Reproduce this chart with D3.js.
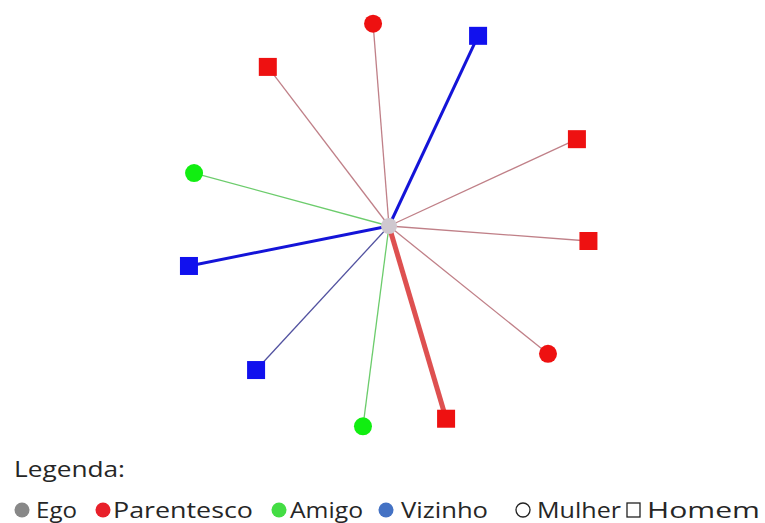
<!DOCTYPE html>
<html>
<head>
<meta charset="utf-8">
<script src="https://cdn.jsdelivr.net/npm/d3@7"></script>
<style>
  body { margin: 0; background: #fff; }
  svg { display: block; }
  .legend text { font-family: "Open Sans", sans-serif; fill: #262626; }
</style>
</head>
<body>
<div id="chart"></div>
<script>
const width = 765;
const height = 523;

// Alteri da rede pessoal (ego no centro)
const relations = ["Parentesco", "Vizinho", "Parentesco", "Amigo", "Parentesco", "Parentesco",
                   "Vizinho", "Vizinho", "Amigo", "Parentesco", "Parentesco"];
const sexes     = ["Mulher", "Homem", "Homem", "Mulher", "Homem", "Homem",
                   "Homem", "Homem", "Mulher", "Homem", "Mulher"];
const angles    = [-4.5, 25.1, -37.3, -74.8, 65.2, 94.3, 258.7, 222.7, 187.4, 163.5, 128.8];
const distances = [203, 210, 200, 202, 207, 200, 204, 196, 202, 201, 204];
const strengths = [1, 2, 1, 1, 1, 1, 2, 1, 1, 3, 1];

// Legenda
const legendTypes  = ["Ego", "Parentesco", "Amigo", "Vizinho"];
const legendShapes = ["Mulher", "Homem"];

const nodeColor = d3.scaleOrdinal()
  .domain(["Parentesco", "Amigo", "Vizinho"])
  .range(["#ee1111", "#11ee11", "#1111ee"]);

const linkColor = (rel, s) => {
  if (rel === "Amigo") return "#6ccc6c";
  if (rel === "Vizinho") return s > 1 ? "#1414d8" : "#5252a0";
  return s > 2 ? "#de5050" : "#c08088";
};

const legendColor = d3.scaleOrdinal()
  .domain(legendTypes)
  .range(["#888888", "#e8202a", "#44dd44", "#4472c4"]);

const widthScale = d3.scaleOrdinal().domain([1, 2, 3]).range([1.3, 3, 5]);
const radius = d3.scaleLinear().domain([0, 200]).range([0, 200]);
const ego = { x: 389, y: 226 };

const nodes = relations.map((rel, i) => {
  const a = angles[i] * Math.PI / 180;
  const r = radius(distances[i]);
  return {
    rel, sex: sexes[i], s: strengths[i],
    x: ego.x + r * Math.sin(a),
    y: ego.y - r * Math.cos(a)
  };
});

const svg = d3.select("#chart").append("svg")
  .attr("width", width)
  .attr("height", height);

// Ligações
svg.append("g").selectAll("line")
  .data(nodes)
  .join("line")
  .attr("x1", ego.x).attr("y1", ego.y)
  .attr("x2", d => d.x).attr("y2", d => d.y)
  .attr("stroke", d => linkColor(d.rel, d.s))
  .attr("stroke-width", d => widthScale(d.s));

// Ego
svg.append("circle")
  .attr("cx", ego.x).attr("cy", ego.y).attr("r", 8)
  .attr("fill", "#cfc8cf");

// Nós
const g = svg.append("g");
g.selectAll("circle")
  .data(nodes.filter(d => d.sex === "Mulher"))
  .join("circle")
  .attr("cx", d => d.x).attr("cy", d => d.y).attr("r", 9)
  .attr("fill", d => nodeColor(d.rel));
g.selectAll("rect")
  .data(nodes.filter(d => d.sex === "Homem"))
  .join("rect")
  .attr("x", d => d.x - 9).attr("y", d => d.y - 9)
  .attr("width", 18).attr("height", 18)
  .attr("fill", d => nodeColor(d.rel));

// Legenda
const legend = svg.append("g").attr("class", "legend");
legend.append("text")
  .attr("x", 14).attr("y", 477)
  .attr("textLength", 111).attr("lengthAdjust", "spacingAndGlyphs")
  .style("font-size", "21px")
  .text("Legenda:");

const typeX = [22, 103, 279, 386];
const typeTextX = [36, 113, 290, 401];
const typeLen = [41, 140, 73, 87];
legend.selectAll("circle")
  .data(legendTypes)
  .join("circle")
  .attr("cx", (d, i) => typeX[i]).attr("cy", 510).attr("r", 7.5)
  .attr("fill", d => legendColor(d));
legend.selectAll("text.t")
  .data(legendTypes)
  .join("text")
  .attr("class", "t")
  .attr("x", (d, i) => typeTextX[i]).attr("y", 518)
  .attr("textLength", (d, i) => typeLen[i]).attr("lengthAdjust", "spacingAndGlyphs")
  .style("font-size", "21px")
  .text(d => d);

legend.append("circle")
  .attr("cx", 523).attr("cy", 510).attr("r", 7)
  .attr("fill", "none").attr("stroke", "#222").attr("stroke-width", 1.3);
legend.append("rect")
  .attr("x", 627).attr("y", 503).attr("width", 13).attr("height", 14)
  .attr("fill", "none").attr("stroke", "#222").attr("stroke-width", 1.3);
legend.selectAll("text.s")
  .data(legendShapes)
  .join("text")
  .attr("class", "s")
  .attr("x", (d, i) => [537, 647][i]).attr("y", 518)
  .attr("textLength", (d, i) => [84, 113][i]).attr("lengthAdjust", "spacingAndGlyphs")
  .style("font-size", "21px")
  .text(d => d);
</script>
</body>
</html>
